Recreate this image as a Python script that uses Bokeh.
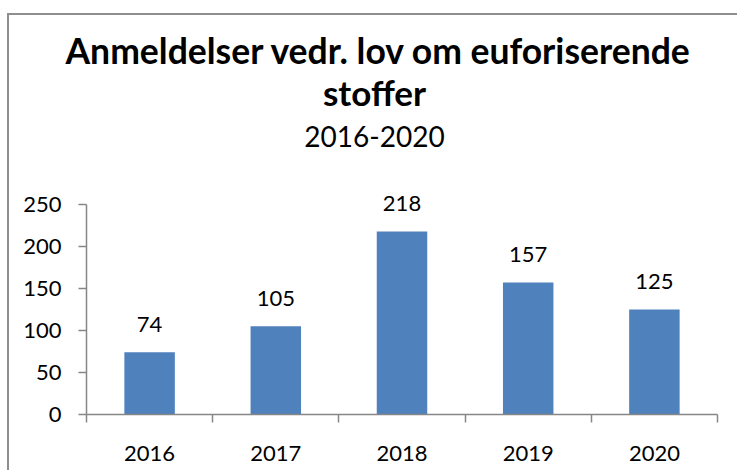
import numpy as np
from bokeh.plotting import figure
from bokeh.models import Range1d, FixedTicker, Label, ColumnDataSource
from bokeh.embed import file_html
from bokeh.resources import INLINE
from bokeh.core.properties import value

# ---- data ----
years = ["2016", "2017", "2018", "2019", "2020"]
counts = [74, 105, 218, 157, 125]
y_ticks = [0, 50, 100, 150, 200, 250]
title_line1 = "Anmeldelser vedr. lov om euforiserende"
title_line2 = "stoffer"
subtitle = "2016-2020"

BAR = "#4F81BD"
AXIS = "#868686"
FONT = "Lato"

# layout (pixels)
W, H = 737, 470
LEFT, RIGHT, TOP, BOTTOM = 86, 20, 74, 56
AXIS_PX = 210                # pixel length of the 0..250 value axis
frame_h = H - BOTTOM - TOP   # frame also holds the 2nd title line and the subtitle
y_end = y_ticks[-1] * frame_h / AXIS_PX

n = len(years)
xc = [i + 0.5 for i in range(n)]
src = ColumnDataSource(dict(x=xc, top=counts, label=[str(c) for c in counts]))

p = figure(width=W, height=H,
           x_range=Range1d(0, n), y_range=Range1d(0, y_end),
           output_backend="svg", toolbar_location=None,
           min_border_left=LEFT, min_border_right=RIGHT,
           min_border_top=TOP, min_border_bottom=BOTTOM)
p.border_fill_color = None
p.background_fill_color = None
p.outline_line_color = None
p.grid.visible = False
p.styles = {
    "background": "linear-gradient(#8e8e8e,#8e8e8e) 7px 13px / 100% 2px no-repeat, "
                  "linear-gradient(#8e8e8e,#8e8e8e) 7px 13px / 2px 100% no-repeat",
}

# first title line (wider than the frame, so it lives in the title panel)
p.title.text = title_line1
p.title.text_font = FONT
p.title.text_font_style = "bold"
p.title.text_font_size = "35.5px"
p.title.text_color = "black"
p.title.align = "left"
p.title.offset = -21
p.title.standoff = 5
p.title.vertical_align = "bottom"

p.vbar(x="x", top="top", width=0.4, source=src, color=BAR, line_color=None)
p.text(x="x", y="top", text="label", source=src,
       text_align="center", text_baseline="middle", y_offset=-28,
       text_font=value(FONT), text_font_size="22px", text_color="black")

# y axis
ya = p.yaxis[0]
ya.ticker = FixedTicker(ticks=y_ticks)
ya.bounds = (y_ticks[0], y_ticks[-1])
ya.axis_line_color = AXIS
ya.axis_line_width = 1.5
ya.major_tick_line_color = AXIS
ya.major_tick_line_width = 1.5
ya.major_tick_out = 8
ya.major_tick_in = 0
ya.minor_tick_line_color = None
ya.major_label_standoff = 17
ya.major_label_text_font = FONT
ya.major_label_text_font_size = "22px"
ya.major_label_text_color = "black"
ya.major_label_text_baseline = "hanging"

# x axis
xa = p.xaxis[0]
xa.ticker = FixedTicker(ticks=xc, minor_ticks=list(range(n + 1)))
xa.major_label_overrides = {x: y for x, y in zip(xc, years)}
xa.axis_line_color = AXIS
xa.axis_line_width = 1.5
xa.major_tick_line_color = None
xa.major_tick_out = 0
xa.major_tick_in = 0
xa.minor_tick_line_color = AXIS
xa.minor_tick_line_width = 1.5
xa.minor_tick_out = 8
xa.minor_tick_in = 0
xa.major_label_standoff = 23
xa.major_label_text_font = FONT
xa.major_label_text_font_size = "22px"
xa.major_label_text_color = "black"

# second title line and subtitle (canvas units: pixels from the canvas top-left)
tx = 374
p.add_layout(Label(x=tx, y=91, x_units="canvas", y_units="canvas", text=title_line2,
                   text_align="center", text_baseline="middle",
                   text_font=FONT, text_font_style="bold", text_font_size="35px",
                   text_color="black"))
p.add_layout(Label(x=tx, y=136, x_units="canvas", y_units="canvas", text=subtitle,
                   text_align="center", text_baseline="middle",
                   text_font=FONT, text_font_size="28px", text_color="black"))

open("out.html", "w").write(file_html(p, INLINE))
